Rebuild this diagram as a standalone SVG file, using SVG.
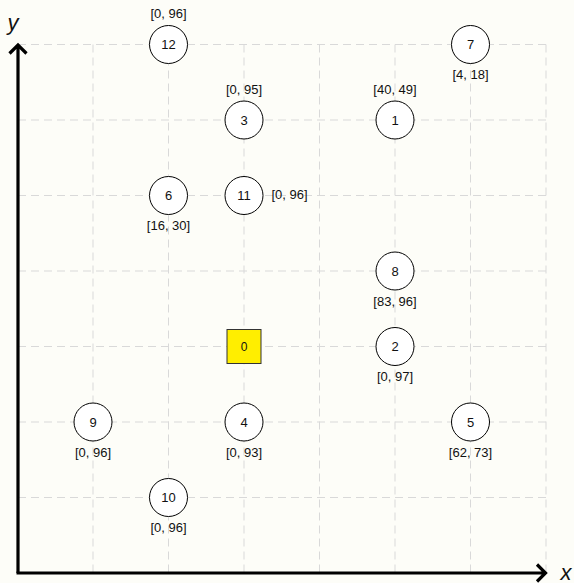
<svg xmlns="http://www.w3.org/2000/svg" width="574" height="583" viewBox="0 0 574 583">
<style>
.grid line{stroke:#d9d9d9;stroke-width:1;stroke-dasharray:8 5}
.axis{stroke:#000;stroke-width:3.2;fill:none}
.n circle{fill:#fff;stroke:#000;stroke-width:1}
.n rect{fill:#ffee00;stroke:#333;stroke-width:1}
text{font-family:"Liberation Sans",Arial,sans-serif;fill:#111;text-anchor:middle;dominant-baseline:central}
.id{font-size:13px}
.lb{font-size:13px}
.ax{font-size:22px;font-style:italic}
</style>
<rect width="574" height="583" fill="#fdfdf8"/>
<g class="grid">
<line x1="18" y1="44.5" x2="546" y2="44.5"/>
<line x1="18" y1="120" x2="546" y2="120"/>
<line x1="18" y1="195.5" x2="546" y2="195.5"/>
<line x1="18" y1="271" x2="546" y2="271"/>
<line x1="18" y1="346.5" x2="546" y2="346.5"/>
<line x1="18" y1="422" x2="546" y2="422"/>
<line x1="18" y1="497.5" x2="546" y2="497.5"/>
<line x1="93" y1="44.5" x2="93" y2="573"/>
<line x1="168.5" y1="44.5" x2="168.5" y2="573"/>
<line x1="244" y1="44.5" x2="244" y2="573"/>
<line x1="319.5" y1="44.5" x2="319.5" y2="573"/>
<line x1="395" y1="44.5" x2="395" y2="573"/>
<line x1="470.5" y1="44.5" x2="470.5" y2="573"/>
<line x1="546" y1="44.5" x2="546" y2="573"/>
</g>
<g id="axes">
<path class="axis" d="M18 573 V45 M9.5 53.5 L18 45 L26.5 53.5"/>
<path class="axis" d="M16.5 573 H545 M537 564.5 L545.5 573 L537 581.5"/>
<text class="ax" x="13" y="22">y</text>
<text class="ax" x="566" y="572">x</text>
</g>
<g id="connectors"></g>
<g id="node12" class="n"><circle cx="168.5" cy="44.5" r="19"/><text class="id" x="168.5" y="44.5">12</text><text class="lb" x="168.5" y="13.5">[0, 96]</text></g>
<g id="node7" class="n"><circle cx="470.5" cy="44.5" r="19"/><text class="id" x="470.5" y="44.5">7</text><text class="lb" x="470.5" y="74">[4, 18]</text></g>
<g id="node3" class="n"><circle cx="244" cy="120" r="19"/><text class="id" x="244" y="120">3</text><text class="lb" x="244" y="89">[0, 95]</text></g>
<g id="node1" class="n"><circle cx="395" cy="120" r="19"/><text class="id" x="395" y="120">1</text><text class="lb" x="395" y="89">[40, 49]</text></g>
<g id="node6" class="n"><circle cx="168.5" cy="195.5" r="19"/><text class="id" x="168.5" y="195.5">6</text><text class="lb" x="168.5" y="225">[16, 30]</text></g>
<g id="node11" class="n"><circle cx="244" cy="195.5" r="19"/><text class="id" x="244" y="195.5">11</text><text class="lb" x="289.5" y="194">[0, 96]</text></g>
<g id="node8" class="n"><circle cx="395" cy="271" r="19"/><text class="id" x="395" y="271">8</text><text class="lb" x="395" y="301">[83, 96]</text></g>
<g id="node0" class="n"><rect x="227" y="329.5" width="34" height="34"/><text class="id" x="244" y="346.5" style="font-size:12px">0</text></g>
<g id="node2" class="n"><circle cx="395" cy="346.5" r="19"/><text class="id" x="395" y="346.5">2</text><text class="lb" x="395" y="376.5">[0, 97]</text></g>
<g id="node9" class="n"><circle cx="93" cy="422" r="19"/><text class="id" x="93" y="422">9</text><text class="lb" x="93" y="452">[0, 96]</text></g>
<g id="node4" class="n"><circle cx="244" cy="422" r="19"/><text class="id" x="244" y="422">4</text><text class="lb" x="244" y="452">[0, 93]</text></g>
<g id="node5" class="n"><circle cx="470.5" cy="422" r="19"/><text class="id" x="470.5" y="422">5</text><text class="lb" x="470.5" y="452">[62, 73]</text></g>
<g id="node10" class="n"><circle cx="168.5" cy="497.5" r="19"/><text class="id" x="168.5" y="497.5">10</text><text class="lb" x="168.5" y="527.5">[0, 96]</text></g>
</svg>
